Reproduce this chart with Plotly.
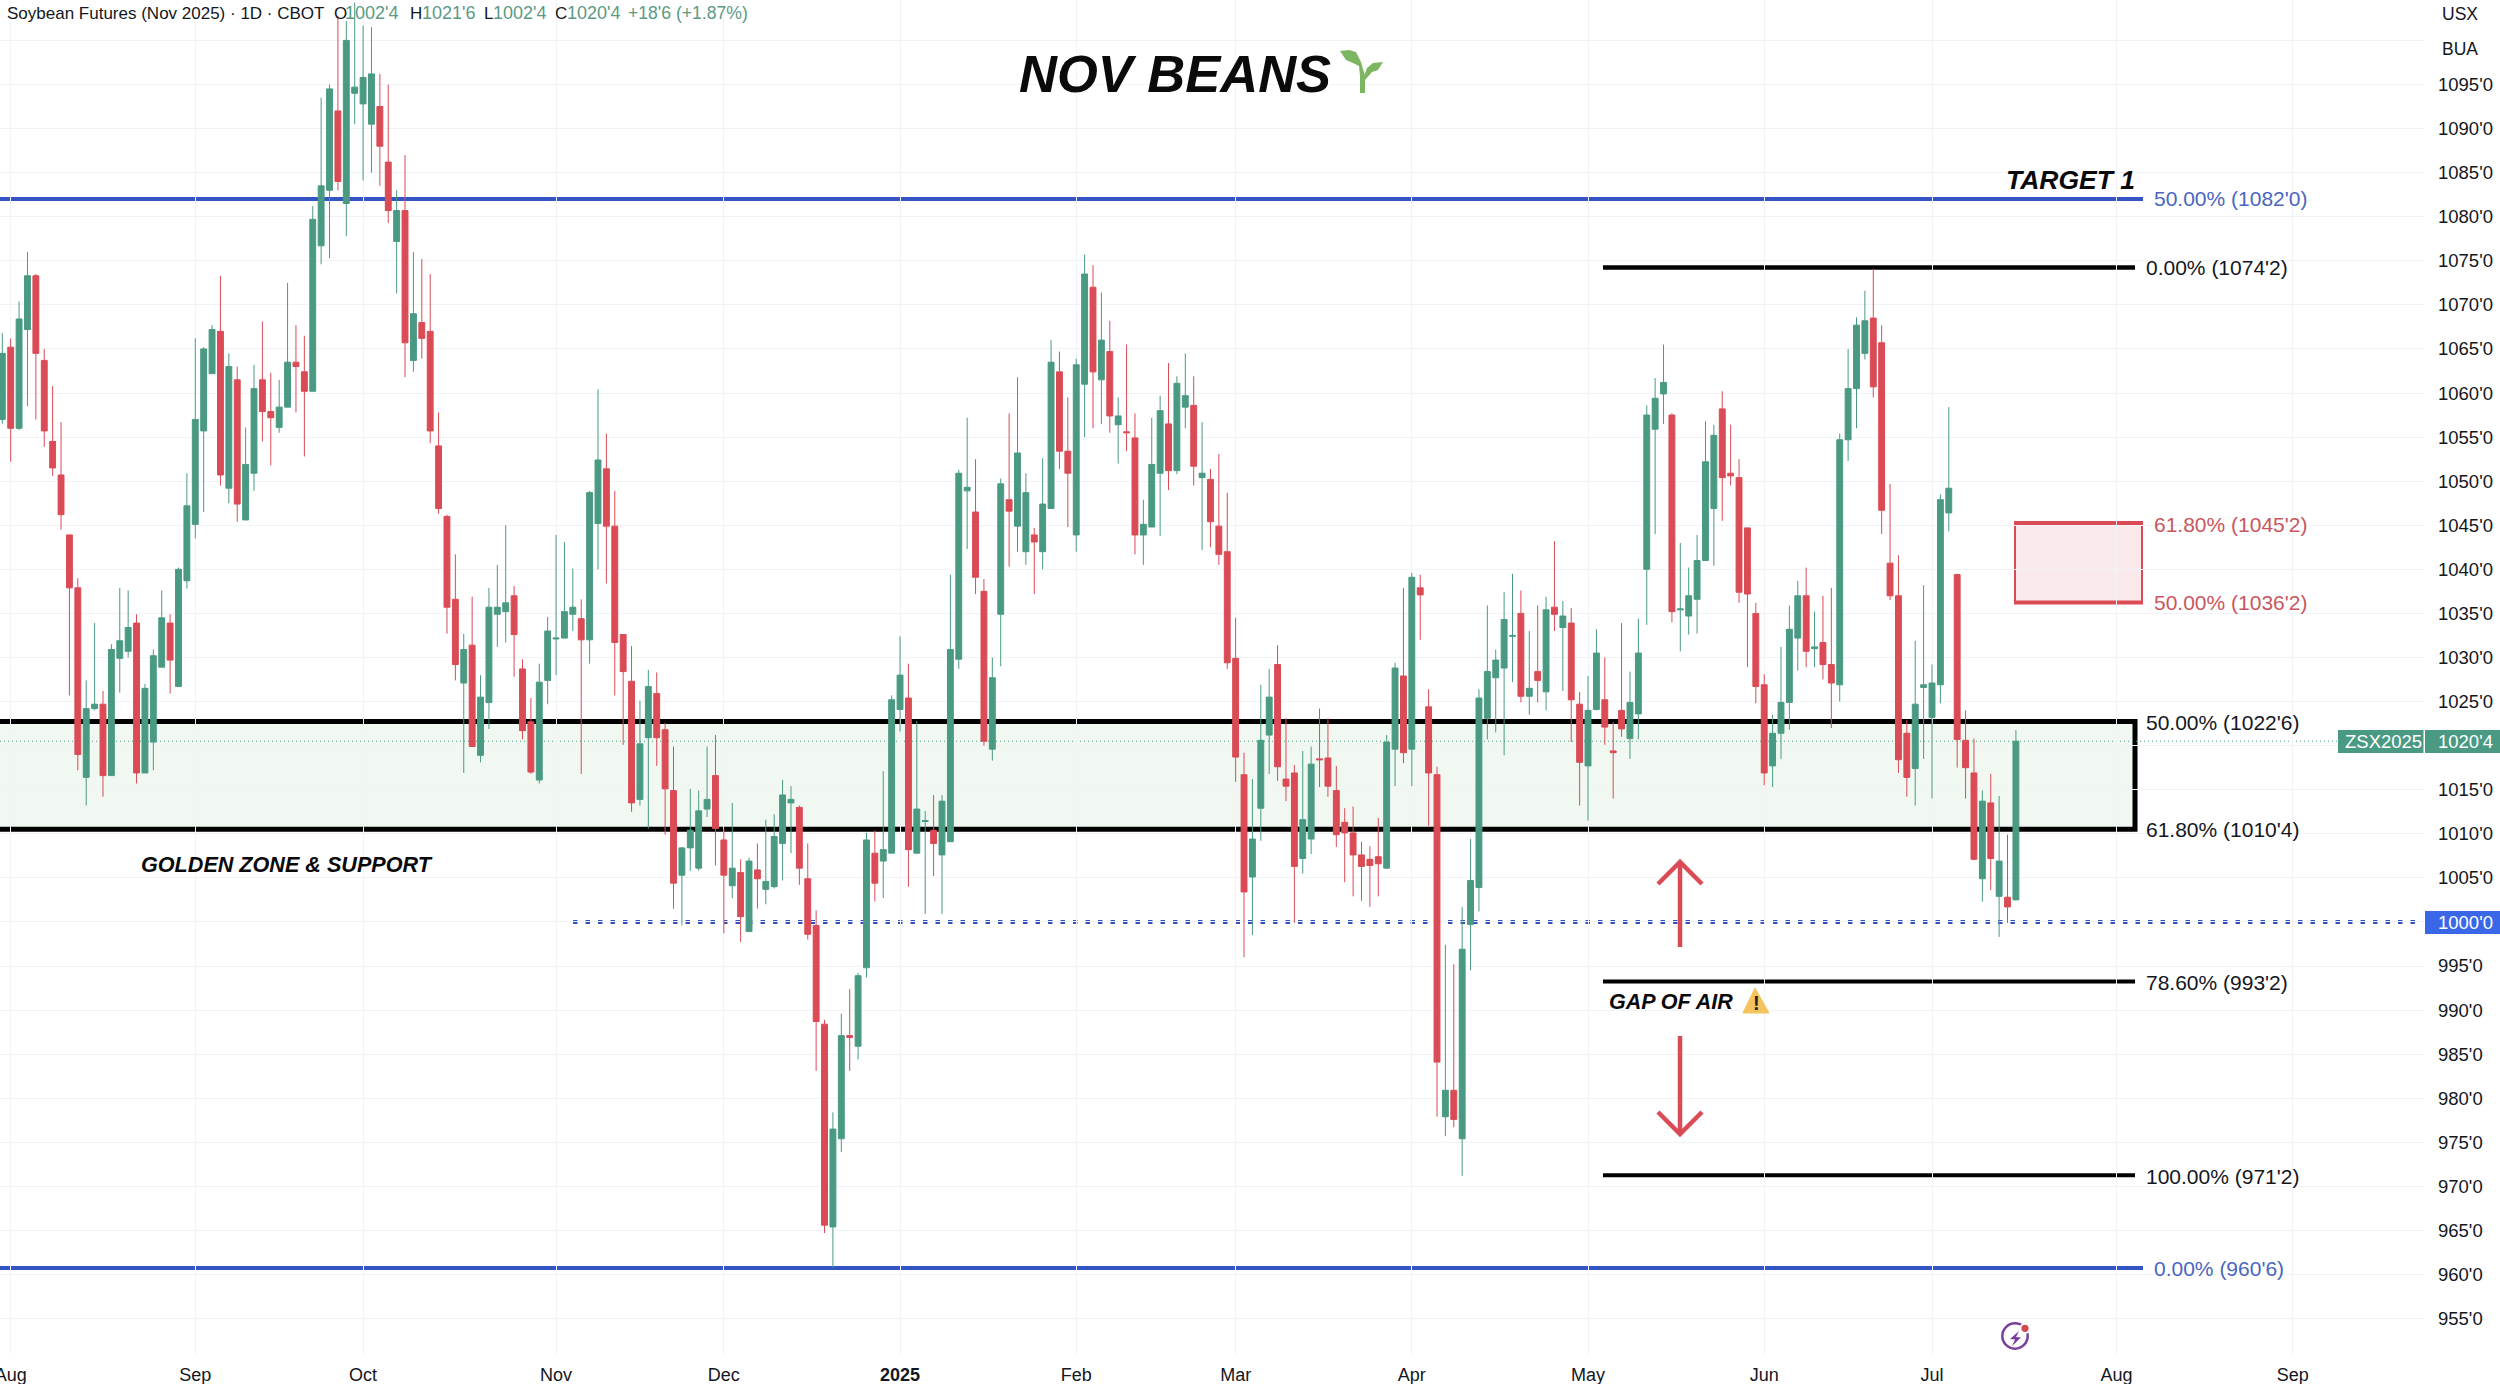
import plotly.graph_objects as go

# ---------- candle data (bar index 0 = last Jul 2024 session) ----------
directions = (
    "grggrrrrrr" "ggrgggrggg" "rgggggrgrg" "grrggrrggg" "rggggrrgrg"
    "rrrrrgrggg" "grrrgggggr" "ggrrrrggrr" "rggggrrgrg" "rggggrrrrg"
    "grggrgggrg" "grggggrrgg" "rggrggrrgg" "rgrgrrgggr" "ggrgrrrrrg"
    "ggrrrggrr" "r" "rrrrrggrgr" "rrgrgggggg" "grgrgrgrrg"
    "grrrgggggr" "gggggrrrrr" "rggggrgrrg" "gggrrrrrgg" "gggrrrgrgr" "g"
)
highs = [
    1066.8,1066.2,1070.4,1076.0,1073.5,1065.0,1060.8,1056.7,1043.9,1039.0,
    1027.4,1033.9,1026.2,1031.5,1037.9,1037.6,1034.9,1027.0,1030.9,1037.6,
    1034.9,1040.2,1050.9,1066.2,1065.2,1067.7,1073.3,1064.5,1063.0,1056.1,
    1063.2,1068.1,1062.3,1061.5,1072.5,1067.7,1066.5,1081.2,1093.5,1095.0,
    1102.8,1102.2,1104.3,1101.7,1101.5,1096.2,1095.0,1083.0,1087.0,1076.0,
    1075.2,1073.5,1057.8,1046.2,1041.7,1032.7,1036.9,1028.0,1037.9,1040.5,
    1045.0,1038.1,1029.8,1025.4,1029.3,1034.6,1043.9,1043.1,1040.1,1036.6,
    1048.9,1060.4,1055.4,1048.9,1032.6,1031.3,1025.1,1028.6,1028.3,1022.6,
    1019.9,1008.5,1015.1,1014.9,1019.9,1021.2,1010.6,1013.5,1007.1,1007.3,
    1008.9,1011.6,1012.2,1016.1,1015.4,1013.2,1008.9,1001.3,988.9,978.4,
    989.6,992.4,994.2,1010.1,1010.4,1017.1,1025.7,1032.4,1029.3,1022.8,
    1012.6,1014.4,1014.4,1039.4,1051.3,1057.2,1052.5,1038.9,1030.0,1050.3,
    1057.7,1061.8,1050.9,1044.7,1052.6,1066.0,1064.7,1059.5,1063.9,1075.7,
    1074.5,1071.4,1068.2,1059.5,1065.5,1057.7,1047.9,1057.2,1059.7,1063.4,
    1061.9,1064.5,1061.9,1056.7,1051.4,1053.1,1048.7,1034.5,1019.2,1016.2,
    1026.9,1028.7,1031.4,1023.1,1017.8,1019.4,1019.9,1024.2,1023.1,1017.7,
    1012.9,1013.1,1009.1,1008.6,1011.8,1021.2,1029.4,1037.9,1039.6,1039.4,
    1026.4,1017.6,997.4,995.2,1001.7,1009.4,1026.4,1035.9,1030.9,1037.4,
    1039.5,1037.6,1033.0,1035.9,1036.9,1043.2,1036.4,1035.6,1026.1,1027.9,
    1033.2,1030.0,1022.7,1033.9,1028.4,1034.4,1058.6,1061.7,1065.5,1057.7,
    1043.0,1040.2,1043.9,1056.8,1056.4,1060.2,1056.4,1052.5,1044.7,1036.2,
    1028.1,1023.5,1031.2,1035.9,1038.7,1040.2,1035.2,1037.0,1037.9,1055.4,
    1065.0,1068.6,1071.6,1074.1,1067.7,1049.7,1041.6,1022.9,1031.9,1038.2,
    1029.2,1048.5,1058.4,1039.5,1024.0,1020.8,1014.9,1016.8,1014.3,1009.9,
    1021.75,
]
body_tops = [
    1064.5,1065.2,1068.4,1073.3,1073.3,1063.7,1054.5,1050.7,1043.9,1037.9,
    1024.2,1024.7,1024.7,1030.9,1031.9,1033.4,1033.9,1026.5,1030.2,1034.5,
    1033.9,1040.0,1047.2,1057.0,1065.0,1067.2,1067.0,1063.0,1061.5,1051.9,
    1060.5,1061.5,1057.9,1058.4,1063.5,1063.5,1062.4,1079.7,1083.5,1094.5,
    1092.0,1100.0,1094.7,1095.8,1096.2,1092.5,1086.2,1080.7,1080.7,1069.0,
    1068.0,1067.0,1054.0,1046.0,1036.6,1030.9,1031.4,1025.5,1035.7,1035.7,
    1036.2,1037.0,1028.7,1022.7,1027.2,1033.0,1032.2,1035.2,1035.7,1034.4,
    1048.7,1052.4,1051.4,1044.9,1032.6,1027.3,1020.2,1026.7,1025.9,1021.8,
    1014.9,1008.4,1010.4,1012.6,1013.9,1016.6,1009.3,1006.1,1005.6,1006.9,
    1005.9,1004.6,1009.7,1014.4,1013.9,1013.0,1004.9,999.6,988.4,976.5,
    987.1,987.1,993.9,1009.3,1007.8,1008.2,1025.2,1028.0,1025.4,1012.8,
    1011.5,1010.4,1013.7,1030.9,1050.9,1049.3,1046.5,1037.5,1027.7,1049.7,
    1047.9,1053.2,1048.7,1043.9,1047.4,1063.5,1062.4,1053.4,1063.2,1073.5,
    1072.0,1066.0,1064.7,1057.4,1055.6,1054.9,1045.1,1051.9,1058.0,1056.5,
    1061.1,1059.7,1058.6,1050.9,1050.2,1044.9,1042.0,1029.9,1016.7,1009.4,
    1020.6,1025.5,1029.2,1016.2,1016.9,1011.6,1017.9,1018.5,1018.6,1014.9,
    1011.3,1010.1,1007.6,1007.1,1007.4,1020.4,1028.8,1027.9,1039.1,1037.9,
    1024.4,1016.7,980.9,980.9,996.9,1004.7,1025.4,1028.4,1029.7,1034.3,
    1032.5,1035.0,1026.5,1028.4,1035.4,1035.7,1034.7,1033.9,1024.7,1024.0,
    1030.5,1025.2,1019.4,1024.0,1024.9,1030.5,1057.5,1059.4,1061.2,1057.5,
    1035.5,1037.0,1041.0,1052.2,1055.2,1058.2,1050.9,1050.4,1044.7,1035.0,
    1026.9,1021.4,1024.9,1033.2,1037.0,1037.0,1031.2,1031.7,1029.2,1054.7,
    1060.5,1067.7,1068.2,1068.5,1065.7,1040.7,1037.0,1021.4,1024.7,1026.9,
    1027.1,1047.9,1049.2,1039.4,1020.6,1016.9,1013.7,1013.5,1006.9,1002.8,
    1020.5,
]
body_bottoms = [
    1057.0,1056.0,1056.0,1067.2,1064.5,1055.7,1051.5,1046.2,1037.9,1019.0,
    1016.4,1024.2,1016.6,1016.6,1029.9,1030.7,1016.9,1016.9,1020.4,1028.9,
    1029.7,1026.7,1038.7,1045.1,1055.7,1062.2,1050.7,1049.2,1047.4,1045.6,
    1050.9,1057.9,1057.2,1056.1,1058.4,1063.0,1060.2,1060.2,1076.7,1083.0,
    1084.0,1081.5,1094.0,1092.8,1090.5,1088.0,1080.7,1077.2,1065.7,1063.7,
    1066.2,1055.7,1046.9,1035.7,1029.2,1027.1,1019.9,1018.9,1024.9,1034.9,
    1035.2,1032.6,1021.7,1017.0,1016.1,1027.4,1032.1,1032.2,1034.9,1032.0,
    1032.0,1045.2,1044.9,1031.7,1028.4,1013.5,1013.9,1020.9,1020.9,1015.1,
    1004.4,1005.3,1008.4,1006.1,1012.8,1010.6,1005.3,1004.1,1000.6,998.9,
    1004.9,1003.7,1004.0,1008.9,1013.5,1006.1,998.6,988.7,965.6,965.4,
    975.4,986.9,985.9,994.8,1004.4,1006.9,1007.8,1024.1,1008.2,1007.8,
    1011.4,1008.9,1007.6,1009.1,1029.8,1048.9,1039.1,1020.5,1019.6,1034.9,
    1046.6,1044.9,1042.0,1043.1,1042.0,1046.9,1053.4,1050.9,1043.9,1061.0,
    1062.4,1061.5,1057.4,1056.4,1055.5,1043.9,1043.9,1044.8,1050.9,1051.2,
    1051.2,1058.4,1051.7,1050.4,1045.4,1041.7,1029.4,1018.7,1003.4,1005.1,
    1012.9,1021.2,1017.6,1015.4,1006.3,1007.2,1009.4,1018.4,1015.4,1009.9,
    1010.1,1007.6,1006.3,1006.4,1006.6,1006.1,1019.6,1019.2,1019.6,1037.1,
    1016.9,984.1,977.9,977.6,975.4,999.7,1003.9,1023.1,1027.7,1028.8,
    1032.4,1025.6,1025.6,1027.4,1026.1,1034.9,1033.4,1025.2,1018.1,1017.7,
    1024.1,1022.1,1019.2,1021.9,1020.8,1023.6,1040.0,1055.9,1059.9,1035.2,
    1035.4,1034.7,1036.6,1041.0,1046.9,1050.4,1050.6,1037.4,1037.2,1026.7,
    1016.9,1017.7,1021.4,1024.9,1032.2,1030.7,1031.0,1029.2,1027.1,1026.9,
    1054.7,1060.5,1064.5,1060.7,1046.7,1037.0,1018.4,1016.4,1017.4,1026.6,
    1023.2,1026.9,1046.4,1020.7,1017.5,1007.1,1004.9,1007.2,1002.9,1001.7,
    1002.5,
]
lows = [
    1056.5,1052.2,1055.8,1058.5,1057.0,1053.9,1050.6,1044.5,1025.7,1017.2,
    1013.2,1024.0,1014.2,1016.6,1026.0,1030.0,1015.7,1016.9,1017.2,1028.9,
    1025.9,1026.7,1037.8,1043.5,1046.5,1062.2,1049.5,1047.5,1045.4,1045.6,
    1048.9,1054.5,1051.8,1055.5,1058.4,1057.8,1052.8,1060.2,1074.6,1075.3,
    1083.0,1077.8,1090.5,1084.1,1085.0,1083.5,1079.3,1071.3,1061.8,1062.4,
    1063.9,1054.3,1046.3,1032.7,1027.4,1016.9,1019.9,1018.1,1021.9,1031.2,
    1031.7,1027.8,1020.7,1016.8,1015.7,1024.7,1028.0,1032.2,1033.0,1016.8,
    1029.3,1040.0,1038.4,1025.7,1020.1,1012.5,1013.2,1010.6,1017.7,1009.9,
    1001.5,999.6,1005.8,1005.8,1011.9,1006.4,998.7,1002.7,997.7,998.9,
    1001.5,1002.0,1003.8,1004.7,1007.8,1004.2,998.0,983.1,964.7,960.75,
    973.9,983.1,984.4,993.7,1002.3,1002.7,1007.8,1021.6,1004.0,1007.8,
    1000.9,1005.2,1000.9,1009.1,1028.7,1042.3,1037.2,1020.0,1018.3,1029.0,
    1040.3,1042.0,1040.5,1037.2,1040.0,1046.9,1051.4,1044.8,1042.0,1055.0,
    1056.0,1056.5,1055.5,1052.0,1053.4,1041.7,1040.5,1044.8,1043.8,1049.0,
    1050.8,1056.0,1049.5,1042.2,1042.5,1040.5,1028.7,1015.9,996.0,998.5,
    1009.2,1016.8,1016.0,1013.7,999.9,1005.5,1007.7,1015.3,1014.2,1008.5,
    1004.5,1002.9,1002.4,1001.7,1002.9,1006.0,1015.4,1018.0,1015.4,1032.0,
    1010.9,977.9,975.7,976.7,971.2,994.5,1001.2,1020.7,1021.5,1018.9,
    1027.2,1024.9,1023.5,1024.9,1024.0,1033.0,1026.2,1020.4,1013.2,1011.5,
    1024.0,1020.1,1014.0,1021.0,1018.5,1020.7,1033.7,1044.0,1056.5,1034.0,
    1030.7,1032.6,1032.7,1041.0,1040.4,1045.5,1049.5,1036.2,1028.9,1024.8,
    1015.5,1015.3,1018.5,1021.8,1028.5,1028.9,1028.9,1027.5,1022.0,1025.0,
    1052.3,1056.0,1063.8,1059.5,1044.0,1036.5,1016.9,1014.2,1013.2,1018.5,
    1014.0,1024.8,1044.3,1017.5,1014.0,1007.0,1002.3,1003.6,998.3,999.9,
    1002.5,
]

# ---------- axis labels ----------
month_positions = [1, 23, 43, 66, 86, 107, 128, 147, 168, 189, 210, 230, 252, 273]
month_labels = ["Aug", "Sep", "Oct", "Nov", "Dec", "<b>2025</b>", "Feb", "Mar", "Apr", "May", "Jun", "Jul", "Aug", "Sep"]
price_ticks = [955, 960, 965, 970, 975, 980, 985, 990, 995, 1000, 1005, 1010, 1015, 1020, 1025,
               1030, 1035, 1040, 1045, 1050, 1055, 1060, 1065, 1070, 1075, 1080, 1085, 1090, 1095, 1100]
price_labels = ["955'0", "960'0", "965'0", "970'0", "975'0", "980'0", "985'0", "990'0", "995'0", "", "1005'0",
                "1010'0", "1015'0", "", "1025'0", "1030'0", "1035'0", "1040'0", "1045'0", "1050'0", "1055'0",
                "1060'0", "1065'0", "1070'0", "1075'0", "1080'0", "1085'0", "1090'0", "1095'0", ""]

# ---------- drawn levels ----------
TARGET_LEVEL = 1082.0
LOW_LEVEL = 960.75
FIB_TOP = 1074.25
FIB_50 = 1022.75
FIB_618 = 1010.5
FIB_786 = 993.25
FIB_100 = 971.25
RED_618 = 1045.25
RED_50 = 1036.25
DOTTED_LEVEL = 1000.0
LAST_PRICE = 1020.5

GREEN = "#4a9a83"
RED = "#da4b55"
BLUE = "#3355c4"
BLUE_TXT = "#4a66c0"
RED_TXT = "#c9565e"
INK = "#131722"

W, H = 2500, 1384
PLOT_R, PLOT_B = 2424, 1354


def xi(px):
    return (px - 2.31) / 8.39


def yp(py):
    return 1095 - (py - 84.5) / 8.815


opens = [b if d == "g" else t for d, t, b in zip(directions, body_tops, body_bottoms)]
closes = [t if d == "g" else b for d, t, b in zip(directions, body_tops, body_bottoms)]
bars = list(range(len(opens)))

fig = go.Figure(go.Candlestick(
    x=bars, open=opens, high=highs, low=lows, close=closes,
    increasing=dict(line=dict(color=GREEN, width=1), fillcolor=GREEN),
    decreasing=dict(line=dict(color=RED, width=1), fillcolor=RED),
    whiskerwidth=0, showlegend=False,
))

shapes = []


def hline(level, px0, px1, color, width, dash="solid", layer="below"):
    shapes.append(dict(type="line", xref="x", yref="y", x0=xi(px0), x1=xi(px1), y0=level, y1=level,
                       line=dict(color=color, width=width, dash=dash), layer=layer))


def path(d_points, color=None, fill=None, width=0, close=True):
    d = "M" + " L".join(f"{xi(a):.3f},{yp(b):.3f}" for a, b in d_points) + (" Z" if close else "")
    shapes.append(dict(type="path", xref="x", yref="y", path=d, layer="above",
                       fillcolor=fill if fill else "rgba(0,0,0,0)",
                       line=dict(color=color if color else "rgba(0,0,0,0)", width=width)))


# golden zone
shapes.append(dict(type="rect", xref="x", yref="y", x0=xi(-6), x1=xi(2135), y0=FIB_618, y1=FIB_50,
                   fillcolor="rgba(76,170,90,0.085)", line=dict(color="#000000", width=5), layer="below"))
# red zone
shapes.append(dict(type="rect", xref="x", yref="y", x0=xi(2015), x1=xi(2142), y0=RED_50, y1=RED_618,
                   fillcolor="rgba(224,82,92,0.12)", line=dict(color=RED, width=2), layer="below"))
hline(RED_618, 2014, 2143, RED, 4)
hline(RED_50, 2014, 2143, RED, 4)
# levels
hline(TARGET_LEVEL, 0, 2143, BLUE, 4)
hline(LOW_LEVEL, 0, 2143, BLUE, 4)
hline(FIB_TOP, 1603, 2135, "#000000", 4.5)
hline(FIB_786, 1603, 2135, "#000000", 4)
hline(FIB_100, 1603, 2135, "#000000", 4)
hline(DOTTED_LEVEL, 573, 2420, "#3350c0", 4, dash="4.5px,8px")
hline(LAST_PRICE, 0, 2340, GREEN, 1, dash="1px,3px")

# arrows
path([(1680, 947), (1680, 862)], color=RED, width=4.5, close=False)
path([(1658, 884), (1680, 862), (1702, 884)], color=RED, width=4.5, close=False)
path([(1680, 1036), (1680, 1134)], color=RED, width=4.5, close=False)
path([(1658, 1112), (1680, 1134), (1702, 1112)], color=RED, width=4.5, close=False)

# warning triangle
path([(1755, 988), (1769, 1013), (1743, 1013)], fill="#f4c35e", color="#f4c35e", width=1)

# sprout icon
path([(1360, 93), (1365, 93), (1365, 76), (1361, 62), (1356, 52), (1349, 50), (1340, 51),
      (1346, 60), (1353, 63), (1359, 66), (1360, 76)], fill="#7db660")
path([(1364, 76), (1367, 68), (1373, 63), (1383, 62), (1378, 70), (1372, 72), (1365, 80)], fill="#7db660")

# price tag boxes
shapes.append(dict(type="rect", xref="paper", yref="y", x0=2338 / PLOT_R, x1=2423.5 / PLOT_R,
                   y0=yp(753), y1=yp(730), fillcolor=GREEN, line=dict(width=0), layer="above"))
shapes.append(dict(type="rect", xref="paper", yref="y", x0=2425 / PLOT_R, x1=2500 / PLOT_R,
                   y0=yp(753), y1=yp(730), fillcolor=GREEN, line=dict(width=0), layer="above"))
shapes.append(dict(type="rect", xref="paper", yref="y", x0=2425 / PLOT_R, x1=2500 / PLOT_R,
                   y0=yp(934), y1=yp(911), fillcolor="#3a66e8", line=dict(width=0), layer="above"))


# lightning icon
def circle(cx, cy, r, fill=None, color=None, width=0):
    shapes.append(dict(type="circle", xref="x", yref="y", x0=xi(cx - r), x1=xi(cx + r), y0=yp(cy + r), y1=yp(cy - r),
                       fillcolor=fill if fill else "rgba(0,0,0,0)",
                       line=dict(color=color if color else "rgba(0,0,0,0)", width=width), layer="above"))


circle(2015, 1336, 12.7, color="#7a3f9e", width=2.5)
path([(2019, 1331), (2010, 1339), (2015, 1339.5), (2012, 1346), (2021, 1337.5), (2016, 1337)], fill="#7a3f9e")
circle(2025, 1328.3, 5.5, fill="#ffffff")
circle(2025, 1328.3, 3.6, fill="#d24a50")

annotations = []


def text(s, px, py, size, color=INK, anchor="left", font="Liberation Sans"):
    annotations.append(dict(text=s, xref="paper", yref="paper", x=px / PLOT_R, y=1 - py / PLOT_B,
                            xanchor=anchor, yanchor="middle", showarrow=False, borderpad=0,
                            font=dict(size=size, color=color, family=font)))


VAL = "#5b9a85"
text("Soybean Futures (Nov 2025) · 1D · CBOT", 6, 13, 17)
text("O", 333, 13, 17)
text("1002'4", 344, 13, 18, VAL)
text("H", 409, 13, 17)
text("1021'6", 421, 13, 18, VAL)
text("L", 483, 13, 17)
text("1002'4", 492, 13, 18, VAL)
text("C", 554, 13, 17)
text("1020'4", 566, 13, 18, VAL)
text("+18'6 (+1.87%)", 627, 13, 17.6, VAL)

text("<b><i>NOV BEANS</i></b>", 1018, 73, 52.5, "#0a0a0a")
text("<b><i>TARGET 1</i></b>", 2005, 180, 26.5, "#0a0a0a")
text("<b><i>GOLDEN ZONE &amp; SUPPORT</i></b>", 140, 864, 21.6, "#0a0a0a")
text("<b><i>GAP OF AIR</i></b>", 1608, 1002, 21.5, "#0a0a0a")
text("<b>!</b>", 1756, 1003, 20, "#222222", anchor="center")

LEVEL_SIZE = 21
text("50.00% (1082'0)", 2152.5, 199, LEVEL_SIZE, BLUE_TXT)
text("0.00% (1074'2)", 2144.5, 267.5, LEVEL_SIZE)
text("61.80% (1045'2)", 2152.5, 524, LEVEL_SIZE, RED_TXT)
text("50.00% (1036'2)", 2152.5, 603, LEVEL_SIZE, RED_TXT)
text("50.00% (1022'6)", 2144.5, 722, LEVEL_SIZE)
text("61.80% (1010'4)", 2144.5, 829.5, LEVEL_SIZE)
text("78.60% (993'2)", 2144.5, 982, LEVEL_SIZE)
text("100.00% (971'2)", 2144.5, 1176, LEVEL_SIZE)
text("0.00% (960'6)", 2152.5, 1268.5, LEVEL_SIZE, BLUE_TXT)

text("ZSX2025", 2344, 741.5, 18.5, "#ffffff")
text("1020'4", 2437, 741.5, 18.5, "#ffffff")
text("1000'0", 2437, 922.5, 18.5, "#ffffff")
text("USX", 2441, 14, 17.5)
text("BUA", 2441, 48.5, 17.5)

fig.update_layout(
    width=W, height=H, autosize=False,
    margin=dict(l=0, r=W - PLOT_R, t=0, b=H - PLOT_B, pad=0),
    paper_bgcolor="#ffffff", plot_bgcolor="#ffffff",
    showlegend=False, shapes=shapes, annotations=annotations,
    boxmode="overlay", boxgap=0.3, boxgroupgap=0,
    xaxis=dict(range=[xi(0), xi(PLOT_R)], tickmode="array", tickvals=month_positions, ticktext=month_labels,
               showgrid=True, gridcolor="#f1f3f6", gridwidth=1, zeroline=False, showline=False, ticks="",
               rangeslider=dict(visible=False), tickfont=dict(size=18, color=INK, family="Liberation Sans"),
               tickangle=0, ticklabelstandoff=8, ticklabeloverflow="allow", automargin=False),
    yaxis=dict(range=[yp(PLOT_B), yp(0)], side="right", tickmode="array", tickvals=price_ticks,
               ticktext=price_labels, showgrid=True, gridcolor="#f1f3f6", gridwidth=1, zeroline=False,
               showline=False, ticks="", ticklabelstandoff=13, automargin=False,
               tickfont=dict(size=18.5, color=INK, family="Liberation Sans")),
)

fig.write_html("out.html", config={"displayModeBar": False},
               post_script="document.body.style.margin='0';document.body.style.overflow='hidden';")
